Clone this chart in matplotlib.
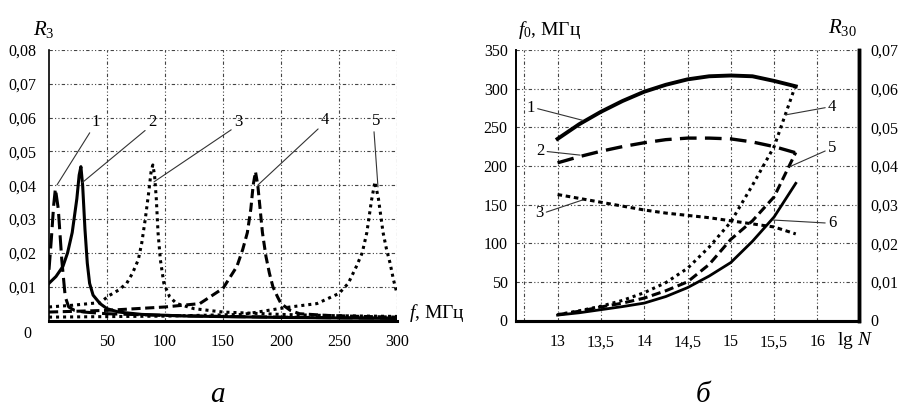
import matplotlib
matplotlib.use("Agg")
import matplotlib.pyplot as plt
from matplotlib.transforms import ScaledTranslation

plt.rcParams['font.family'] = ['Liberation Serif', 'DejaVu Serif']
plt.rcParams['mathtext.fontset'] = 'custom'
plt.rcParams['mathtext.rm'] = 'Liberation Serif'
plt.rcParams['mathtext.it'] = 'Liberation Serif:italic'
plt.rcParams['mathtext.bf'] = 'Liberation Serif:bold'

# ---------------- panel a data ----------------
f1 = [0, 2, 4, 5.5, 8, 11, 14, 17, 22, 30, 50, 100, 150, 200, 250, 300]
r1 = [0.015, 0.024, 0.034, 0.039, 0.033, 0.018, 0.007, 0.004, 0.003, 0.0025, 0.002, 0.0015, 0.0012, 0.001, 0.0008, 0.0007]

f2 = [0, 6, 12, 16, 20, 24, 26, 27.5, 29, 31, 33, 35, 38, 44, 50, 60, 80, 120, 200, 300]
r2 = [0.011, 0.013, 0.016, 0.020, 0.026, 0.036, 0.043, 0.0455, 0.040, 0.027, 0.017, 0.011, 0.0075, 0.005, 0.0035,
      0.0025, 0.0018, 0.0013, 0.0009, 0.0006]

f3 = [0, 20, 44, 52, 60, 67, 72, 77, 80, 83, 86, 88, 89.5, 91, 92.5, 94, 96, 99, 104, 110, 125, 150, 200, 250, 300]
r3 = [0.004, 0.0045, 0.0053, 0.0074, 0.009, 0.011, 0.014, 0.018, 0.023, 0.030, 0.038, 0.044, 0.046, 0.043,
      0.036, 0.026, 0.018, 0.011, 0.007, 0.005, 0.0035, 0.0025, 0.0018, 0.0014, 0.0012]

f4 = [0, 50, 100, 130, 150, 162, 167, 171, 174, 176, 178, 180, 182, 184, 187, 190, 193, 197, 200, 208, 216, 240, 270, 300]
r4 = [0.0025, 0.003, 0.004, 0.005, 0.0095, 0.016, 0.021, 0.026, 0.033, 0.040, 0.044, 0.040, 0.033, 0.026, 0.019,
      0.014, 0.010, 0.007, 0.005, 0.003, 0.002, 0.0015, 0.0012, 0.001]

f5 = [0, 100, 167, 200, 208, 231, 250, 258, 265, 270, 274, 278, 281, 284, 288, 291, 294, 297, 300]
r5 = [0.001, 0.0013, 0.0018, 0.0036, 0.004, 0.005, 0.008, 0.011, 0.016, 0.020, 0.026, 0.0355, 0.041, 0.036,
      0.026, 0.021, 0.017, 0.012, 0.008]

a_xticks = [50, 100, 150, 200, 250, 300]
a_xticklabels = ['50', '100', '150', '200', '250', '300']
a_yticks = [0, 0.01, 0.02, 0.03, 0.04, 0.05, 0.06, 0.07, 0.08]
a_yticklabels = ['0', '0,01', '0,02', '0,03', '0,04', '0,05', '0,06', '0,07', '0,08']

# ---------------- panel b data ----------------
lgN = [13.0, 13.25, 13.5, 13.75, 14.0, 14.25, 14.5, 14.75, 15.0, 15.25, 15.5, 15.75]
f0_1 = [235, 254, 270, 284, 296, 305, 312, 316, 317, 316, 310, 303]
f0_2 = [204, 212, 219, 225, 230, 234, 236, 236, 235, 231, 225, 217]
f0_3 = [163, 158, 153, 148, 143, 139, 136, 133, 129, 125, 121, 112]
R30_4 = [0.0015, 0.0025, 0.0037, 0.0052, 0.0072, 0.0098, 0.0135, 0.019, 0.0255, 0.035, 0.045, 0.061]
R30_5 = [0.0015, 0.0024, 0.0035, 0.0045, 0.0058, 0.0077, 0.0100, 0.0145, 0.021, 0.0258, 0.032, 0.0435]
R30_6 = [0.0014, 0.002, 0.0028, 0.0036, 0.0045, 0.0062, 0.0085, 0.0115, 0.015, 0.0205, 0.0268, 0.0355]

b_xticks = [13, 13.5, 14, 14.5, 15, 15.5, 16]
b_xticklabels = ['13', '13,5', '14', '14,5', '15', '15,5', '16']
b_extra_grid_x = [12.61]
b_yticks = [0, 50, 100, 150, 200, 250, 300, 350]
b_yticklabels = ['0', '50', '100', '150', '200', '250', '300', '350']
b_y2ticks = [0, 0.01, 0.02, 0.03, 0.04, 0.05, 0.06, 0.07]
b_y2ticklabels = ['0', '0,01', '0,02', '0,03', '0,04', '0,05', '0,06', '0,07']

W, H = 898, 407
fig = plt.figure(figsize=(W / 100, H / 100), dpi=100)

grid_kw = dict(color='#444444', linewidth=0.8, linestyle=(0, (3, 2, 1, 2, 1, 2)))
tick_fs = 11.5
lead_kw = dict(arrowstyle='-', color='#333333', lw=0.8, shrinkA=0, shrinkB=0)


def px_axes(x0, x1, y0, y1):
    return fig.add_axes([x0 / W, 1 - y1 / H, (x1 - x0) / W, (y1 - y0) / H])


# ================= panel a =================
ax = px_axes(49, 397, 50, 320.5)
ax.set_xlim(0, 300)
ax.set_ylim(0, 0.08)
ax.set_xticks(a_xticks)
ax.set_xticklabels(a_xticklabels, fontsize=tick_fs)
ax.set_yticks(a_yticks)
ax.set_yticklabels(a_yticklabels, fontsize=tick_fs)
ax.tick_params(length=0, pad=9)
ax.tick_params(axis='x', pad=10)
ax.grid(True, **grid_kw)
ax.set_axisbelow(True)
for s in ['top', 'right']:
    ax.spines[s].set_visible(False)
ax.spines['left'].set_linewidth(1.2)
ax.spines['bottom'].set_linewidth(2.2)
for lab in ax.get_yticklabels():
    if lab.get_text() == '0':
        lab.set_transform(lab.get_transform() + ScaledTranslation(-5 / 100, -12 / 100, fig.dpi_scale_trans))

lw = 2.2
ax.plot(f1, r1, color='black', lw=lw, linestyle=(0, (5, 2)))
ax.plot(f2, r2, color='black', lw=lw, linestyle='-')
ax.plot(f3, r3, color='black', lw=lw, linestyle=(0, (1, 1.3)))
ax.plot(f4, r4, color='black', lw=lw, linestyle=(0, (3, 1.5)))
ax.plot(f5, r5, color='black', lw=lw, linestyle=(0, (1, 1.3)))

ann_a = [('1', (40.5, 0.0587), (6.9, 0.0401)),
         ('2', (88.8, 0.0587), (28.4, 0.0407)),
         ('3', (163, 0.0587), (90.5, 0.041)),
         ('4', (238, 0.0593), (180.2, 0.0401)),
         ('5', (282, 0.059), (283.6, 0.0395))]
for t, xt, xy in ann_a:
    ax.annotate(t, xy=xy, xytext=xt, fontsize=12, ha='center', va='center',
                arrowprops=dict(relpos=(0.2, 0.2), **lead_kw))

ax.text(33 / W, 1 - 35 / H, '$R_3$', transform=fig.transFigure, fontsize=15, ha='left', va='baseline')
ax.text(409 / W, 1 - 318 / H, '$f$, МГц', transform=fig.transFigure, fontsize=14, ha='left', va='baseline')
fig.text(217 / W, 1 - 402 / H, 'а', fontsize=21, style='italic', ha='center', va='baseline')

# ================= panel b =================
bx = px_axes(516, 859, 50, 320.5)
bx.set_xlim(12.52, 16.48)
bx.set_ylim(0, 350)
bx.set_xticks(b_xticks)
bx.set_xticklabels(b_xticklabels, fontsize=tick_fs)
bx.set_yticks(b_yticks)
bx.set_yticklabels(b_yticklabels, fontsize=tick_fs)
bx.tick_params(length=0, pad=6)
bx.tick_params(axis='x', pad=10)
bx.grid(True, **grid_kw)
for gx in b_extra_grid_x:
    bx.axvline(gx, **grid_kw)
bx.set_axisbelow(True)
bx.spines['top'].set_visible(False)
bx.spines['left'].set_linewidth(1.2)
bx.spines['bottom'].set_linewidth(2.2)
bx.spines['right'].set_linewidth(2.5)

bx2 = bx.twinx()
bx2.set_ylim(0, 0.07)
bx2.set_yticks(b_y2ticks)
bx2.set_yticklabels(b_y2ticklabels, fontsize=tick_fs)
bx2.tick_params(length=0, pad=8)
bx2.spines['top'].set_visible(False)
bx2.spines['right'].set_linewidth(2.5)
bx2.spines['bottom'].set_linewidth(2.2)
bx2.spines['left'].set_linewidth(1.2)

bx.plot(lgN, f0_1, color='black', lw=2.8, linestyle='-')
bx.plot(lgN, f0_2, color='black', lw=2.4, linestyle=(0, (5, 2.5)))
bx.plot(lgN, f0_3, color='black', lw=2.2, linestyle=(0, (1.5, 1.2)))
bx2.plot(lgN, R30_4, color='black', lw=2.2, linestyle=(0, (1, 1.3)))
bx2.plot(lgN, R30_5, color='black', lw=2.2, linestyle=(0, (3, 1.5)))
bx2.plot(lgN, R30_6, color='black', lw=2.0, linestyle='-')

ann_b = [('1', (12.69, 275), (13.29, 259), (1.0, 0.5)),
         ('2', (12.80, 219), (13.26, 214), (1.0, 0.5)),
         ('3', (12.79, 139), (13.29, 156), (1.0, 0.5)),
         ('4', (16.17, 276), (15.63, 266), (0.0, 0.5)),
         ('5', (16.17, 223), (15.68, 199), (0.0, 0.4)),
         ('6', (16.17, 126), (15.49, 130), (0.0, 0.5))]
for t, xt, xy, rp in ann_b:
    bx2.annotate(t, xy=(xy[0], xy[1] / 5000), xytext=(xt[0], xt[1] / 5000), fontsize=12,
                 ha='center', va='center', annotation_clip=False,
                 arrowprops=dict(relpos=rp, **lead_kw))

fig.text(518 / W, 1 - 35 / H, '$f_0$, МГц', fontsize=14, ha='left', va='baseline')
fig.text(828 / W, 1 - 33 / H, '$R_{30}$', fontsize=15, ha='left', va='baseline')
fig.text(837 / W, 1 - 345 / H, 'lg $N$', fontsize=14, ha='left', va='baseline')
fig.text(703 / W, 1 - 402 / H, 'б', fontsize=21, style='italic', ha='center', va='baseline')

fig.savefig('out.png', dpi=100)
